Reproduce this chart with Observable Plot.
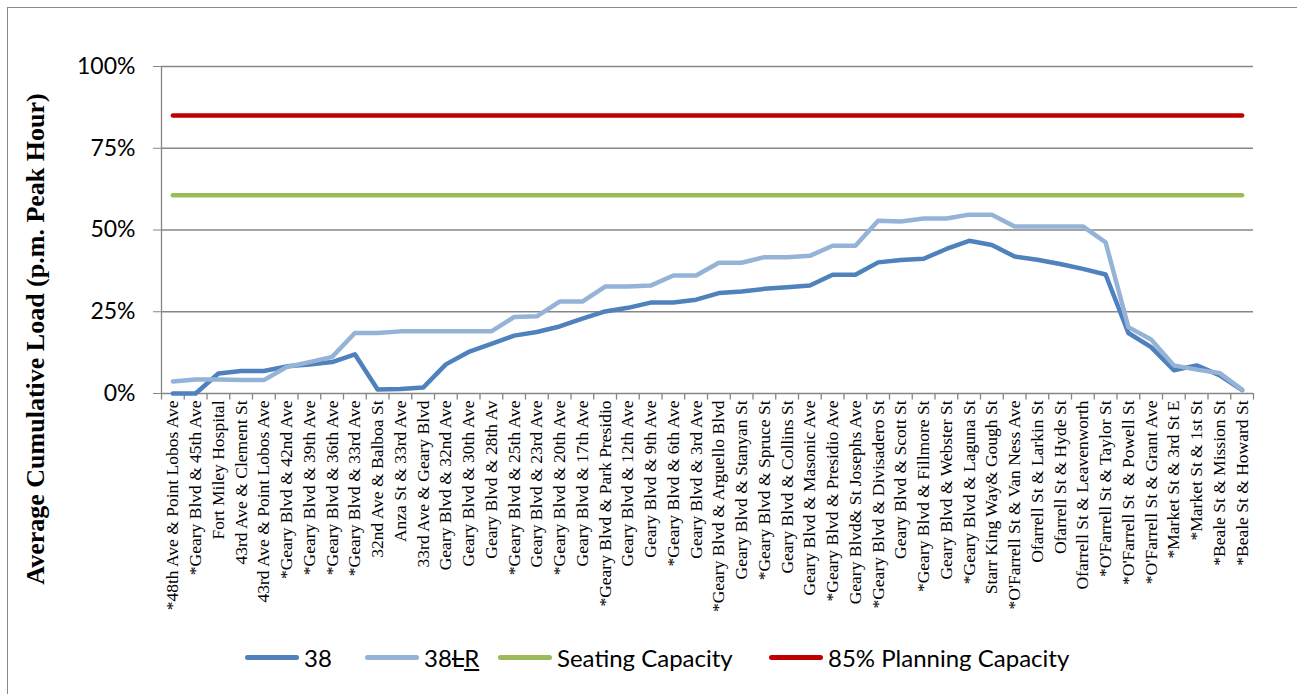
<!DOCTYPE html>
<html>
<head>
<meta charset="utf-8">
<script src="https://cdn.jsdelivr.net/npm/d3@7"></script>
<script src="https://cdn.jsdelivr.net/npm/@observablehq/plot@0.6"></script>
<style>
  body { margin: 0; background: #fff; }
  #chart { position: relative; width: 1297px; height: 694px; overflow: hidden; background: #fff; }
  #frame { position: absolute; left: 7px; top: 7px; width: 1400px; height: 800px;
           border-left: 1.5px solid #898989; border-top: 1.5px solid #898989; pointer-events: none; }
  #ytitle { position: absolute; left: 36px; top: 339px; transform: translate(-50%, -50%) rotate(-90deg);
            white-space: nowrap; font-family: "Liberation Serif", serif; font-weight: bold; font-size: 26px; color: #000; }
  .item { position: absolute; top: 642px; height: 30px; display: flex; align-items: center;
          font-family: Lato, "Open Sans", sans-serif; font-size: 24px; color: #000; }
  .swatch { width: 54px; height: 5px; border-radius: 3px; margin-right: 5px; }
</style>
</head>
<body>
<div id="chart"></div>
<script>
// bus stops along the route, west to east
const stops = [
  "*48th Ave & Point Lobos Ave", "*Geary Blvd & 45th Ave", "Fort Miley Hospital",
  "43rd Ave & Clement St", "43rd Ave & Point Lobos Ave", "*Geary Blvd & 42nd Ave",
  "*Geary Blvd & 39th Ave", "*Geary Blvd & 36th Ave", "*Geary Blvd & 33rd Ave",
  "32nd Ave & Balboa St", "Anza St & 33rd Ave", "33rd Ave & Geary Blvd",
  "Geary Blvd & 32nd Ave", "Geary Blvd & 30th Ave", "Geary Blvd & 28th Av",
  "*Geary Blvd & 25th Ave", "Geary Blvd & 23rd Ave", "*Geary Blvd & 20th Ave",
  "Geary Blvd & 17th Ave", "*Geary Blvd & Park Presidio", "Geary Blvd & 12th Ave",
  "Geary Blvd & 9th Ave", "*Geary Blvd & 6th Ave", "Geary Blvd & 3rd Ave",
  "*Geary Blvd & Arguello Blvd", "Geary Blvd & Stanyan St", "*Geary Blvd & Spruce St",
  "Geary Blvd & Collins St", "Geary Blvd & Masonic Ave", "*Geary Blvd & Presidio Ave",
  "Geary Blvd& St Josephs Ave", "*Geary Blvd & Divisadero St", "Geary Blvd & Scott St",
  "*Geary Blvd & Fillmore St", "Geary Blvd & Webster St", "*Geary Blvd & Laguna St",
  "Starr King Way& Gough St", "*O'Farrell St & Van Ness Ave", "Ofarrell St & Larkin St",
  "Ofarrell St & Hyde St", "Ofarrell St & Leavenworth", "*O'Farrell St & Taylor St",
  "*O'Farrell St  & Powell St", "*O'Farrell St & Grant Ave", "*Market St & 3rd St E",
  "*Market St & 1st St", "*Beale St & Mission St", "*Beale St & Howard St"
];

// average cumulative load, %
const load38 = [
  0, 0, 6.1, 6.9, 6.9, 8.3, 8.9, 9.6, 12.0, 1.2, 1.4, 1.8,
  8.9, 12.7, 15.2, 17.7, 18.8, 20.5, 22.9, 25.1, 26.2, 27.8, 27.8, 28.7,
  30.7, 31.2, 32.0, 32.5, 33.0, 36.3, 36.3, 40.1, 40.8, 41.2, 44.2, 46.7,
  45.4, 41.9, 40.9, 39.6, 38.1, 36.4, 18.5, 14.2, 7.1, 8.6, 5.6, 1.0
];
const load38LR = [
  3.7, 4.3, 4.3, 4.1, 4.1, 8.1, 9.6, 11.2, 18.5, 18.5, 19.0, 19.0,
  19.0, 19.0, 19.0, 23.4, 23.6, 28.1, 28.1, 32.7, 32.7, 33.0, 36.1, 36.1,
  40.0, 40.0, 41.7, 41.7, 42.1, 45.2, 45.2, 52.8, 52.6, 53.5, 53.5, 54.7,
  54.7, 51.1, 51.1, 51.1, 51.1, 46.2, 20.3, 16.5, 8.6, 7.3, 6.3, 1.2
];
const seatingCapacity = 60.6;
const planningCapacity = 85;

const yTicks = [0, 25, 50, 75, 100];

const series = [
  {name: "38", values: load38, color: "#4F81BD"},
  {name: "38LR", values: load38LR, color: "#95B3D7"},
  {name: "Seating Capacity", values: stops.map(() => seatingCapacity), color: "#9BBB59"},
  {name: "85% Planning Capacity", values: stops.map(() => planningCapacity), color: "#C00000"}
];
const rows = series.flatMap(s => stops.map((stop, i) => ({stop, series: s.name, value: s.values[i]})));

const half = 1092 / stops.length / 2; // half a category step, for the boundary ticks
const grey = "#868686";

const plot = Plot.plot({
  width: 1297,
  height: 640,
  marginTop: 66,
  marginBottom: 247,
  marginLeft: 161,
  marginRight: 44,
  style: {background: "transparent", color: "#000"},
  x: {type: "point", domain: stops, padding: 0.5, label: null},
  y: {domain: [0, 100], label: null},
  color: {domain: series.map(s => s.name), range: series.map(s => s.color)},
  marks: [
    Plot.ruleY(yTicks, {stroke: grey, strokeWidth: 1.3, strokeOpacity: 1}),
    Plot.ruleX([stops[0]], {y1: 0, y2: 100, dx: -half, stroke: grey, strokeWidth: 1.3}),
    Plot.ruleX(stops, {x: d => d, y1: 0, y2: -2, dx: -half, stroke: grey, strokeWidth: 1.3}),
    Plot.ruleX([stops[stops.length - 1]], {y1: 0, y2: -2, dx: half, stroke: grey, strokeWidth: 1.3}),
    Plot.axisY({ticks: yTicks, tickFormat: d => d + "%", tickSize: 8, tickPadding: 18, stroke: grey,
                fontSize: 23, fontFamily: "Lato, sans-serif", label: null}),
    Plot.axisX({tickRotate: -90, tickSize: 0, tickPadding: 7, fontSize: 17.5,
                fontFamily: "'Liberation Serif', serif", label: null}),
    Plot.line(rows, {x: "stop", y: "value", z: "series", stroke: "series", strokeWidth: 4.5,
                     strokeLinecap: "round", strokeLinejoin: "round"})
  ]
});

const chart = document.getElementById("chart");
chart.appendChild(plot);

const title = document.createElement("div");
title.id = "ytitle";
title.textContent = "Average Cumulative Load (p.m. Peak Hour)";
chart.appendChild(title);

// legend below the svg
const legendLeft = [245, 365, 498, 769];
series.forEach((s, i) => {
  const item = document.createElement("div");
  item.className = "item";
  item.style.left = legendLeft[i] + "px";
  const sw = document.createElement("div");
  sw.className = "swatch";
  sw.style.background = s.color;
  const label = document.createElement("span");
  if (s.name === "38LR") label.innerHTML = "38<s>L</s><u>R</u>";
  else label.textContent = s.name;
  item.append(sw, label);
  chart.appendChild(item);
});

const frame = document.createElement("div");
frame.id = "frame";
chart.appendChild(frame);
</script>
</body>
</html>
